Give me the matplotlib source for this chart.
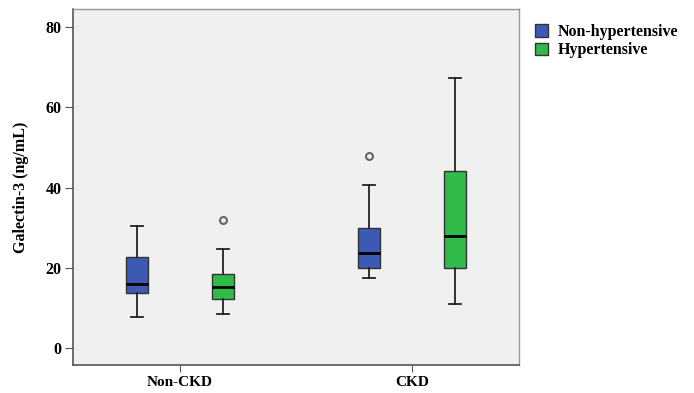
import matplotlib.pyplot as plt

# values (ng/mL)
groups = ["Non-CKD", "CKD"]
series = ["Non-hypertensive", "Hypertensive"]
colors = ["#3c5ab4", "#2fba4a"]

whislo = {"Non-hypertensive": [7.7, 17.5], "Hypertensive": [8.5, 11.0]}
q1 = {"Non-hypertensive": [13.7, 20.0], "Hypertensive": [12.3, 20.0]}
med = {"Non-hypertensive": [16.0, 23.7], "Hypertensive": [15.2, 27.9]}
q3 = {"Non-hypertensive": [22.7, 29.9], "Hypertensive": [18.5, 44.1]}
whishi = {"Non-hypertensive": [30.4, 40.6], "Hypertensive": [24.7, 67.3]}
fliers = {"Non-hypertensive": [[], [47.9]], "Hypertensive": [[31.9], []]}

plt.rcParams['font.family'] = ['Liberation Serif', 'DejaVu Serif']
plt.rcParams['font.weight'] = 'bold'

fig = plt.figure(figsize=(6.94, 3.93), dpi=100)
ax = fig.add_axes([0.105, 0.071, 0.643, 0.906])
ax.set_facecolor("#f0f0f0")

offsets = [-0.185, 0.185]
for s, name in enumerate(series):
    stats = []
    for g in range(len(groups)):
        stats.append(dict(whislo=whislo[name][g], q1=q1[name][g], med=med[name][g],
                          q3=q3[name][g], whishi=whishi[name][g], fliers=fliers[name][g]))
    pos = [g + offsets[s] for g in range(len(groups))]
    ax.bxp(stats, positions=pos, widths=0.095, patch_artist=True, manage_ticks=False,
           boxprops=dict(facecolor=colors[s], edgecolor="#333333", linewidth=1),
           medianprops=dict(color="black", linewidth=2),
           whiskerprops=dict(color="#222222", linewidth=1.3),
           capprops=dict(color="#222222", linewidth=1.3),
           capwidths=0.05,
           flierprops=dict(marker="o", markerfacecolor="none", markeredgecolor="#666666",
                           markersize=5, markeredgewidth=1.5))

ax.set_xlim(-0.461, 1.461)
ax.set_ylim(-4.2, 84.5)
ax.set_xticks(range(len(groups)))
ax.set_xticklabels(groups, fontsize=11, fontweight="bold")
ax.set_yticks([0, 20, 40, 60, 80])
ax.tick_params(axis="y", labelsize=11.5, length=6, color="#555555", pad=2)
ax.tick_params(axis="x", length=5, color="#555555", pad=3)
ax.set_ylabel("Galectin-3 (ng/mL)", fontsize=11.5, fontweight="bold", labelpad=12)

for side in ["left", "bottom"]:
    ax.spines[side].set_color("#555555")
    ax.spines[side].set_linewidth(1.2)
for side in ["top", "right"]:
    ax.spines[side].set_color("#999999")
    ax.spines[side].set_linewidth(1.0)

handles = [plt.Rectangle((0, 0), 1, 1, facecolor=c, edgecolor="#333333") for c in colors]
fig.legend(handles, series, loc="upper left", bbox_to_anchor=(0.762, 0.955), frameon=False,
           prop=dict(size=11.5, weight="bold"), handlelength=0.8, handleheight=0.8,
           handletextpad=0.6, labelspacing=0.15, borderaxespad=0)

fig.savefig("out.png", dpi=100)
